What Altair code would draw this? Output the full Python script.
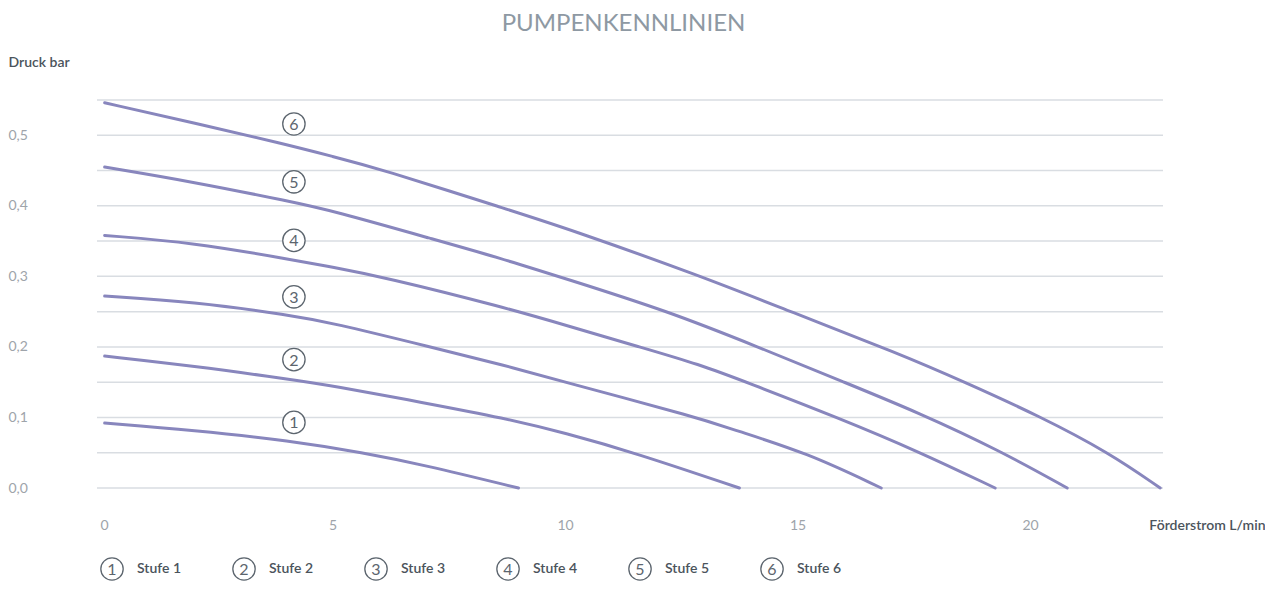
import altair as alt
import pandas as pd

# ---------------- data ----------------
stufen = ["Stufe 1", "Stufe 2", "Stufe 3", "Stufe 4", "Stufe 5", "Stufe 6"]
digits = ["1", "2", "3", "4", "5", "6"]

c1_x = [0.1, 2, 4.1, 5.66, 6.95, 9.0]
c1_y = [0.092, 0.082, 0.067, 0.050, 0.033, 0.0]

c2_x = [0.1, 2, 4.1, 5, 6.95, 8.7, 10, 11.5, 13.75]
c2_y = [0.187, 0.173, 0.154, 0.145, 0.121, 0.099, 0.078, 0.050, 0.0]

c3_x = [0.1, 2, 4.1, 5, 7.1, 8.7, 10, 12.9, 13.6, 15.2, 16.8]
c3_y = [0.272, 0.264, 0.245, 0.234, 0.200, 0.174, 0.150, 0.099, 0.083, 0.050, 0.0]

c4_x = [0.1, 2, 4.1, 5, 6.1, 8.7, 10, 11.6, 12.9, 13.9, 15.86, 17.63, 19.25]
c4_y = [0.358, 0.348, 0.324, 0.313, 0.299, 0.256, 0.231, 0.200, 0.175, 0.150, 0.100, 0.051, 0.0]

c5_x = [0.1, 2, 4.1, 5, 7.2, 8.6, 10, 12.2, 14.15, 16.0, 17.6, 19.35, 20.8]
c5_y = [0.455, 0.434, 0.406, 0.393, 0.352, 0.326, 0.297, 0.251, 0.200, 0.150, 0.107, 0.053, 0.0]

c6_x = [0.1, 2, 4, 5, 6, 8.8, 10, 12.9, 14.85, 17.2, 18.6, 20.2, 21.7, 22.8]
c6_y = [0.546, 0.518, 0.487, 0.470, 0.453, 0.394, 0.369, 0.301, 0.250, 0.190, 0.150, 0.102, 0.050, 0.0]

curves_x = [c1_x, c2_x, c3_x, c4_x, c5_x, c6_x]
curves_y = [c1_y, c2_y, c3_y, c4_y, c5_y, c6_y]

label_x = [4.17, 4.17, 4.17, 4.17, 4.17, 4.17]
label_y = [0.093, 0.182, 0.271, 0.351, 0.434, 0.516]

x_ticks = [0, 5, 10, 15, 20]
y_ticks = [0, 0.1, 0.2, 0.3, 0.4, 0.5]
grid_y = [0, 0.05, 0.1, 0.15, 0.2, 0.25, 0.3, 0.35, 0.4, 0.45, 0.5, 0.55]

# ---------------- tables ----------------
rows = []
for i, (xs_, ys_) in enumerate(zip(curves_x, curves_y)):
    for j, (xv, yv) in enumerate(zip(xs_, ys_)):
        rows.append({"stufe": stufen[i], "q": xv, "p": yv, "o": j})
df = pd.DataFrame(rows)

df_lab = pd.DataFrame({"q": label_x, "p": label_y, "d": digits})
df_leg = pd.DataFrame({"n": [1, 2, 3, 4, 5, 6], "d": digits, "name": stufen})
df_grid = pd.DataFrame({"g": grid_y})

# ---------------- styles ----------------
FONT = "Lato"
LINE = "#8886bd"
GRID = "#d9dde2"
TICKLAB = "#9ea4aa"
DARK = "#4b545c"
CIRC = "#5c656e"

W = 1063
H = 388

xs = alt.Scale(domain=[0, 22.86], nice=False, zero=False)
ys = alt.Scale(domain=[0, 0.55], nice=False)

x_axis = alt.Axis(
    values=x_ticks, grid=False, domain=False, ticks=False,
    labelPadding=30, labelFontSize=14, labelColor=TICKLAB, labelFont=FONT,
    title="Förderstrom L/min", titleX=W + 102, titleY=37,
    titleAlign="right", titleBaseline="middle", titleFont=FONT,
    titleFontSize=14, titleFontWeight=600, titleColor=DARK,
)
y_axis = alt.Axis(
    values=y_ticks, grid=False, domain=False, ticks=False,
    labelAlign="left", labelPadding=92, labelBaseline="middle",
    labelExpr="replace(format(datum.value, '.1f'), '.', ',')",
    labelFontSize=14, labelColor=TICKLAB, labelFont=FONT,
    title="Druck bar", titleAngle=0, titleX=-92, titleY=-38,
    titleAlign="left", titleBaseline="middle", titleFont=FONT,
    titleFontSize=14, titleFontWeight=600, titleColor=DARK,
)

grid = alt.Chart(df_grid).mark_rule(color=GRID, strokeWidth=1.5).encode(
    y=alt.Y("g:Q", scale=ys, axis=y_axis),
    x=alt.value(-3),
    x2=alt.value(W),
)

lines = alt.Chart(df).mark_line(
    interpolate="basis", strokeWidth=3, color=LINE, strokeCap="round"
).encode(
    x=alt.X("q:Q", scale=xs, axis=x_axis),
    y=alt.Y("p:Q", scale=ys),
    detail="stufe:N",
    order="o:Q",
)

circ = alt.Chart(df_lab).mark_point(
    shape="circle", size=500, filled=True, fill="white", stroke=CIRC,
    strokeWidth=1.3, opacity=1,
).encode(x=alt.X("q:Q", scale=xs), y=alt.Y("p:Q", scale=ys))

txt = alt.Chart(df_lab).mark_text(
    font=FONT, fontSize=16, color=CIRC, align="center", baseline="middle", dy=1
).encode(x=alt.X("q:Q", scale=xs), y=alt.Y("p:Q", scale=ys), text="d:N")

main = alt.layer(grid, lines, circ, txt).properties(width=W, height=H)

lxs = alt.Scale(domain=[0.909, 8.962], nice=False, zero=False)
leg_c = alt.Chart(df_leg).mark_point(
    shape="circle", size=500, filled=True, fill="white", stroke=CIRC,
    strokeWidth=1.3, opacity=1,
).encode(x=alt.X("n:Q", scale=lxs, axis=None), y=alt.value(15))
leg_d = alt.Chart(df_leg).mark_text(
    font=FONT, fontSize=16, color=CIRC, align="center", baseline="middle", dy=1
).encode(x=alt.X("n:Q", scale=lxs, axis=None), y=alt.value(15), text="d:N")
leg_t = alt.Chart(df_leg).mark_text(
    font=FONT, fontSize=14, fontWeight=600, color=DARK, align="left",
    baseline="middle", dx=25
).encode(x=alt.X("n:Q", scale=lxs, axis=None), y=alt.value(15), text="name:N")
legend = alt.layer(leg_c, leg_d, leg_t).properties(width=W, height=30)

chart = alt.vconcat(main, legend, spacing=22).properties(
    title=alt.TitleParams(
        "PUMPENKENNLINIEN", font=FONT, fontSize=24, fontWeight="normal",
        color="#8e99a3", anchor="middle", offset=19, dx=-13,
    ),
    padding={"top": 4, "left": 0, "right": 0, "bottom": 0},
).configure_view(stroke=None)

chart.save("out.html", embed_options={"renderer": "svg", "actions": False})
